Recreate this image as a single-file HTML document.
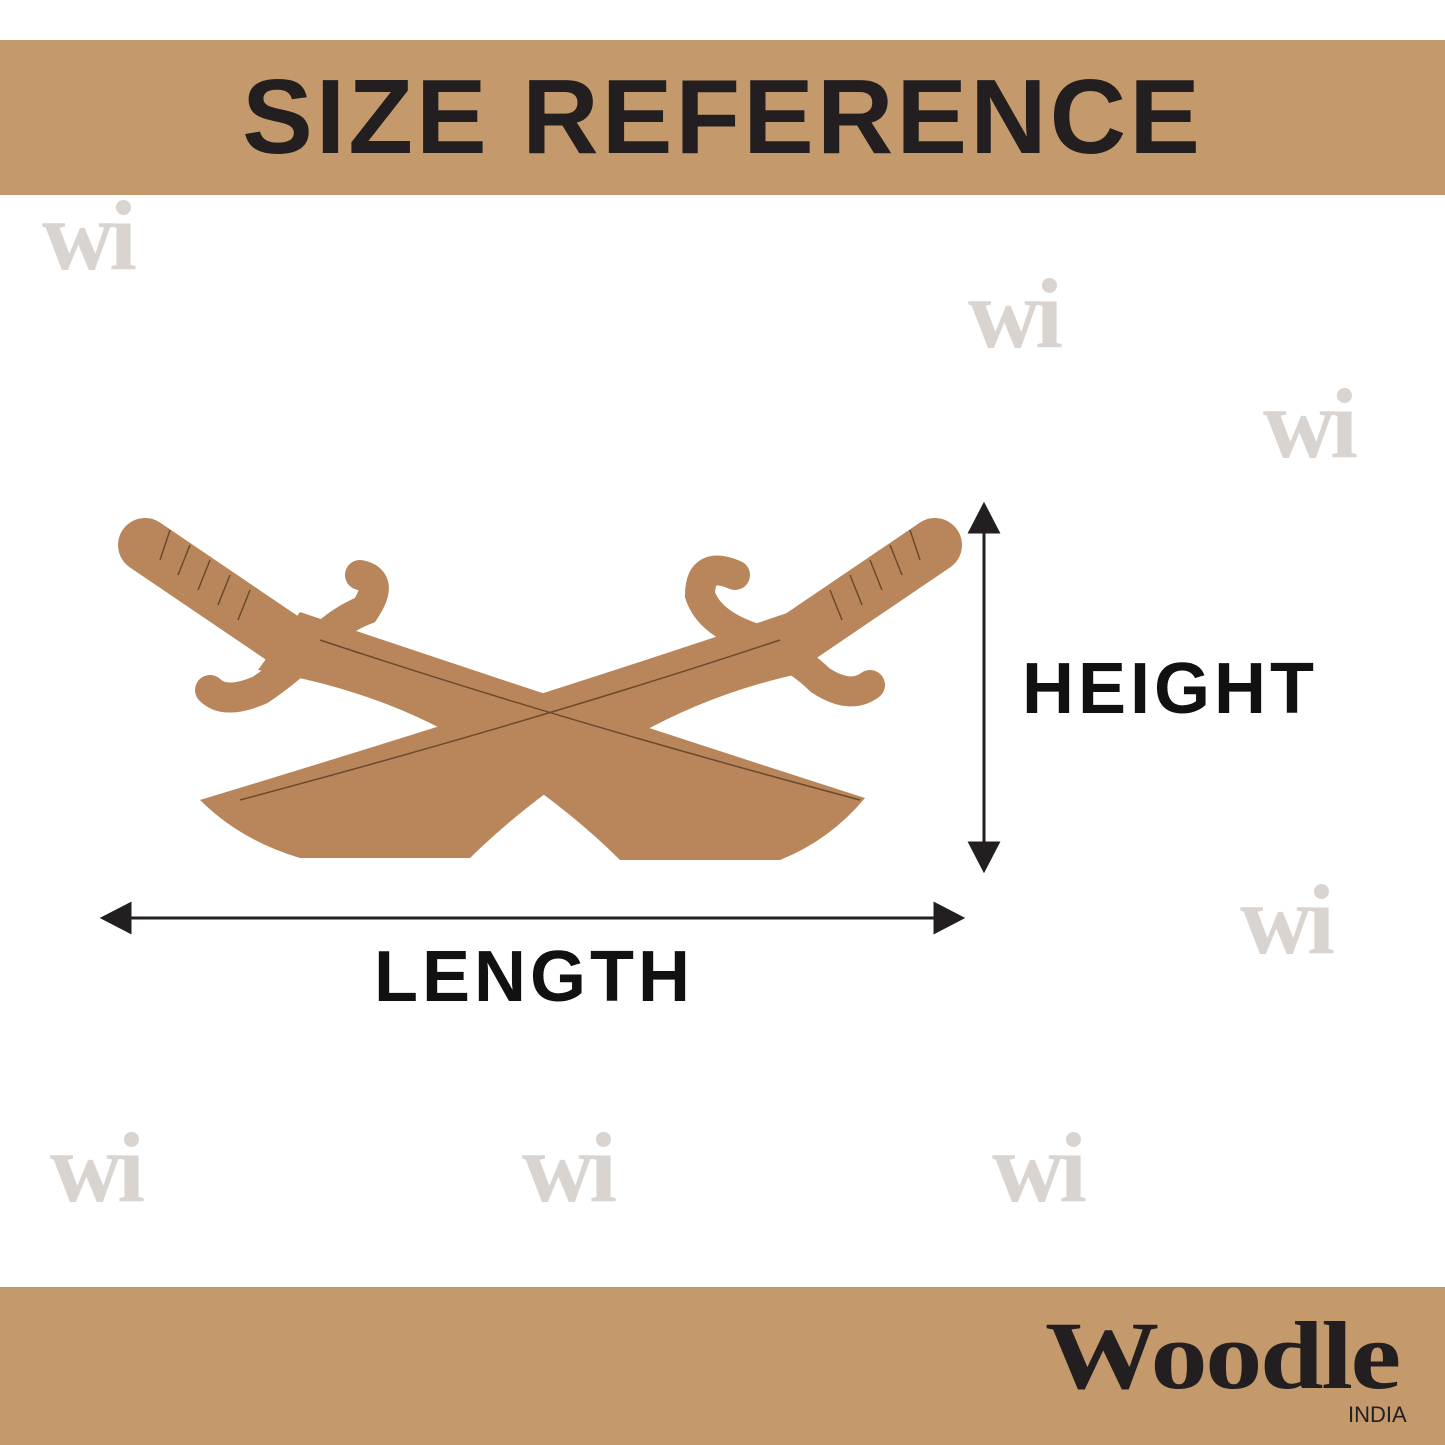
<!DOCTYPE html>
<html><head><style>
body{margin:0;width:1445px;height:1445px;background:#fff;position:relative;overflow:hidden;font-family:"Liberation Sans",sans-serif}
.band{position:absolute;left:0;width:1445px;background:#c4996c}
.wm{position:absolute;font-family:"Liberation Serif",serif;font-weight:bold;font-size:100px;color:#d9d4cf;letter-spacing:-5px}
.lbl{position:absolute;font-weight:bold;color:#111;font-size:72px;letter-spacing:4px}
</style></head><body>
<div class="band" style="top:40px;height:155px"></div>
<div style="position:absolute;top:57px;left:0;width:1445px;text-align:center;font-weight:bold;font-size:106px;color:#231f20;letter-spacing:3px">SIZE REFERENCE</div>
<div class="band" style="top:1287px;height:158px"></div>
<div style="position:absolute;left:1045px;top:1300px;font-family:'Liberation Serif',serif;font-weight:bold;font-size:96px;color:#231f20;letter-spacing:-2px;transform:scaleX(1.19);transform-origin:left">Woodle</div>
<div style="position:absolute;left:1348px;top:1402px;font-size:22px;color:#231f20">INDIA</div>
<div class="wm" style="left:42px;top:178px">wi</div>
<div class="wm" style="left:968px;top:256px">wi</div>
<div class="wm" style="left:1263px;top:366px">wi</div>
<div class="wm" style="left:1240px;top:862px">wi</div>
<div class="wm" style="left:50px;top:1110px">wi</div>
<div class="wm" style="left:522px;top:1110px">wi</div>
<div class="wm" style="left:992px;top:1110px">wi</div>
<svg width="1445" height="1445" style="position:absolute;left:0;top:0">
<g fill="#b8865a" stroke="none">
<path d="M790,612 Q530,700 200,800 Q240,840 300,858 L470,858 Q540,790 620,745 Q710,690 818,670 Z"/>
<line x1="935" y1="545" x2="795" y2="640" stroke="#b8865a" stroke-width="54" stroke-linecap="round"/>
<path d="M735,575 Q700,560 700,595 Q710,625 760,640 Q800,660 820,680 Q850,700 870,685" fill="none" stroke="#b8865a" stroke-width="30" stroke-linecap="round"/>
<path d="M300,612 Q560,700 865,798 Q830,840 780,860 L620,860 Q560,800 470,745 Q380,690 258,670 Z"/>
<line x1="145" y1="545" x2="285" y2="640" stroke="#b8865a" stroke-width="54" stroke-linecap="round"/>
<path d="M360,575 Q385,580 365,610 Q340,620 320,640 Q290,670 260,690 Q225,705 210,690" fill="none" stroke="#b8865a" stroke-width="30" stroke-linecap="round"/>
</g>
<g stroke="#6b4a2c" stroke-width="1.5" fill="none">
<path d="M320,640 Q560,720 860,800"/>
<path d="M780,640 Q540,720 240,800"/>
<path d="M170,530 l-10,30 M190,545 l-12,30 M210,560 l-12,30 M230,575 l-12,30 M250,590 l-12,30"/>
<path d="M910,530 l10,30 M890,545 l12,30 M870,560 l12,30 M850,575 l12,30 M830,590 l12,30"/>
</g>
<g fill="#231f20" stroke="#231f20" stroke-width="3">
<line x1="984" y1="520" x2="984" y2="855"/>
<polygon points="984,505 970,532 998,532"/>
<polygon points="984,870 970,843 998,843"/>
<line x1="120" y1="918" x2="945" y2="918"/>
<polygon points="103,918 130,904 130,932"/>
<polygon points="962,918 935,904 935,932"/>
</g>
</svg>
<div class="lbl" style="left:1022px;top:648px">HEIGHT</div>
<div class="lbl" style="left:374px;top:936px">LENGTH</div>
</body></html>
